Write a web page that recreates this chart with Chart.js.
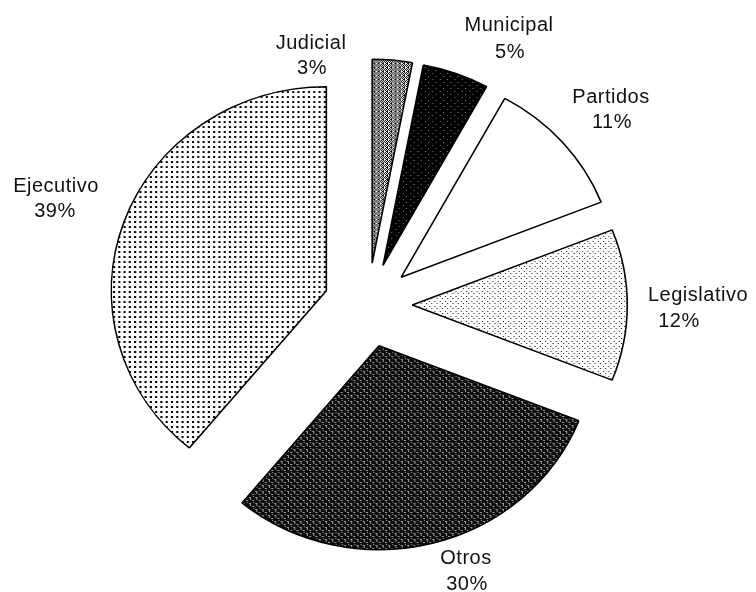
<!DOCTYPE html>
<html>
<head>
<meta charset="utf-8">
<script src="https://cdn.jsdelivr.net/npm/chart.js@4/dist/chart.umd.min.js"></script>
<style>
  html, body { margin: 0; padding: 0; background: #fff; }
  #wrap { width: 756px; height: 592px; position: relative; }
</style>
</head>
<body>
<div id="wrap"><canvas id="pieChart"></canvas></div>
<script>
// 데이터
const categories = ['Judicial', 'Municipal', 'Partidos', 'Legislativo', 'Otros', 'Ejecutivo'];
const shares = [3, 5, 11, 12, 30, 39];

// 라벨 위치 (캔버스 좌표, 줄마다 중심점) - categories 순서
const labelPos = [
    [[311, 43], [312, 68]],
    [[509, 25], [510, 52]],
    [[611, 97], [612, 122]],
    [[698, 295], [679, 321]],
    [[466, 558], [467, 584]],
    [[56, 186], [55, 211]]
];

// 작은 타일로 무늬(패턴) 만들기
function makePattern(w, h, draw) {
    const tile = document.createElement('canvas');
    tile.width = w;
    tile.height = h;
    const t = tile.getContext('2d');
    draw(t);
    return document.createElement('canvas').getContext('2d').createPattern(tile, 'repeat');
}

const patJudicial = makePattern(4, 4, t => {
    t.fillStyle = '#fff'; t.fillRect(0, 0, 4, 4);
    t.fillStyle = '#000';
    t.fillRect(0, 0, 1, 1); t.fillRect(2, 0, 1, 1);
    t.fillRect(1, 1, 1, 1); t.fillRect(3, 1, 1, 1);
    t.fillRect(0, 2, 1, 1); t.fillRect(2, 2, 1, 1);
    t.fillRect(1, 3, 2, 1);
});
const patMunicipal = makePattern(7, 6, t => {
    t.fillStyle = '#000'; t.fillRect(0, 0, 7, 6);
    t.fillStyle = '#777'; t.fillRect(2, 1, 1, 1); t.fillRect(5, 4, 1, 1);
});
const patPartidos = '#ffffff';
const patLegislativo = makePattern(5, 5, t => {
    t.fillStyle = '#fff'; t.fillRect(0, 0, 5, 5);
    t.fillStyle = '#222'; t.fillRect(1, 1, 1, 1); t.fillRect(3, 3, 1, 1);
});
const patOtros = makePattern(6, 6, t => {
    t.fillStyle = '#0d0d0d'; t.fillRect(0, 0, 6, 6);
    t.fillStyle = '#999';
    t.fillRect(0, 2, 2, 1); t.fillRect(4, 0, 1, 2);
    t.fillRect(3, 5, 2, 1); t.fillRect(1, 4, 1, 1);
});
const patEjecutivo = makePattern(5, 5, t => {
    t.fillStyle = '#fff'; t.fillRect(0, 0, 5, 5);
    t.fillStyle = '#000'; t.fillRect(1, 1, 2, 2);
});
const fills = [patJudicial, patMunicipal, patPartidos, patLegislativo, patOtros, patEjecutivo];

const SHIFT = 42;     // 조각이 중심에서 떨어지는 거리(px)
const STRETCH = 1.054; // 원본 그림은 가로로 조금 늘어나 있음

// 모든 조각을 같은 거리만큼 바깥으로 밀기 (Chart.js offset은 조각마다 반지름이 달라짐)
const explodePlugin = {
    id: 'explode',
    afterDatasetsUpdate(chart) {
        chart.getDatasetMeta(0).data.forEach(arc => {
            const mid = (arc.startAngle + arc.endAngle) / 2;
            arc.x += Math.cos(mid) * SHIFT;
            arc.y += Math.sin(mid) * SHIFT;
        });
    },
    beforeDatasetsDraw(chart) {
        const ctx = chart.ctx;
        const a = chart.chartArea;
        const cx = (a.left + a.right) / 2;
        ctx.save();
        ctx.translate(cx, 0);
        ctx.scale(STRETCH, 1);
        ctx.translate(-cx, 0);
    },
    afterDatasetsDraw(chart) {
        chart.ctx.restore();
    }
};

// 조각 옆에 이름과 퍼센트 쓰기
const labelPlugin = {
    id: 'sliceLabels',
    afterDraw(chart) {
        const ctx = chart.ctx;
        ctx.save();
        ctx.font = '20px "Liberation Sans", Arial, sans-serif';
        ctx.letterSpacing = '0.5px';
        ctx.fillStyle = '#111';
        ctx.textAlign = 'center';
        ctx.textBaseline = 'middle';
        categories.forEach((name, i) => {
            const pos = labelPos[i];
            ctx.fillText(name, pos[0][0], pos[0][1]);
            ctx.fillText(shares[i] + '%', pos[1][0], pos[1][1]);
        });
        ctx.restore();
    }
};

const ctx = document.getElementById('pieChart').getContext('2d');

new Chart(ctx, {
    type: 'pie',
    data: {
        labels: categories,
        datasets: [{
            data: shares,
            backgroundColor: fills,
            borderColor: '#000',
            borderWidth: 1.5,
            clip: false
        }]
    },
    options: {
        responsive: true,
        maintainAspectRatio: false,
        animation: false,
        events: [],
        radius: 204,
        layout: { padding: { left: 0, right: 20, top: 18, bottom: 0 } },
        plugins: {
            legend: { display: false },
            tooltip: { enabled: false }
        }
    },
    plugins: [explodePlugin, labelPlugin]
});
</script>
</body>
</html>
